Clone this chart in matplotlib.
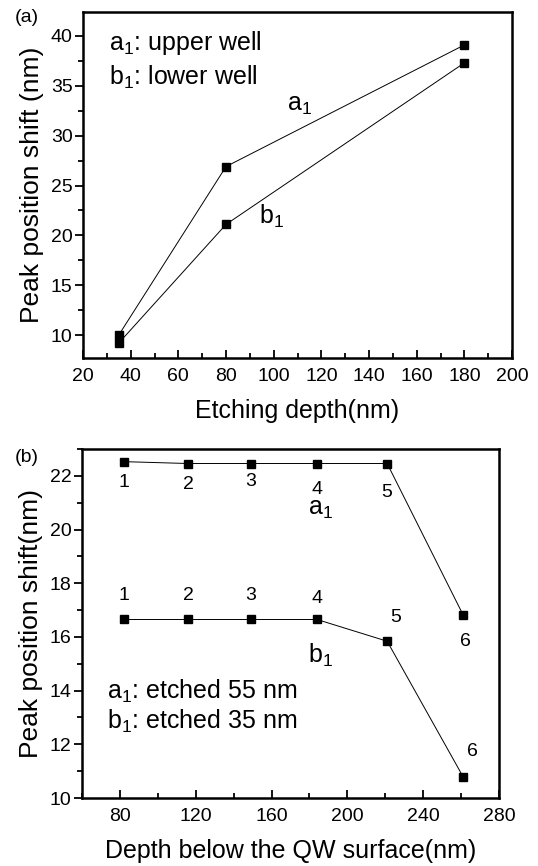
import matplotlib
matplotlib.use('Agg')
import matplotlib.pyplot as plt
from matplotlib.ticker import MultipleLocator

plt.rcParams['font.family'] = ['Liberation Sans', 'DejaVu Sans']
plt.rcParams['mathtext.fontset'] = 'custom'
plt.rcParams['mathtext.rm'] = 'Liberation Sans'

# panel (a): shift vs etching depth
etch_depth = [35, 80, 180]
shift_upper = [10.0, 26.9, 39.1]   # a1
shift_lower = [9.2, 21.1, 37.3]    # b1

# panel (b): shift vs depth below QW surface
qw_depth = [82, 116, 149, 184, 221, 261]
shift_55 = [22.53, 22.46, 22.46, 22.46, 22.46, 16.83]   # a1
shift_35 = [16.65, 16.65, 16.65, 16.65, 15.84, 10.8]    # b1
point_ids = ['1', '2', '3', '4', '5', '6']

A1 = r'a$_\mathregular{1}$'
B1 = r'b$_\mathregular{1}$'

fig = plt.figure(figsize=(5.38, 8.66), dpi=100)


def style_axes(ax):
    for s in ax.spines.values():
        s.set_linewidth(1.8)
    ax.tick_params(axis='x', which='both', direction='in', top=False, labelsize=14, pad=7)
    ax.tick_params(axis='y', which='both', direction='out', right=False, labelsize=14, pad=1.5)
    ax.tick_params(which='major', length=6, width=1.3)
    ax.tick_params(which='minor', length=3.5, width=1.3)


mk = dict(color='black', lw=0.7, marker='s', markersize=5.5, mfc='black', mec='black')

# ---- (a)
ax1 = fig.add_axes([0.1543, 0.5866, 0.7974, 0.3995])
ax1.plot(etch_depth, shift_upper, **mk)
ax1.plot(etch_depth, shift_lower, **mk)
ax1.set_xlim(20, 200)
ax1.set_ylim(7.7, 42.4)
ax1.xaxis.set_major_locator(MultipleLocator(20))
ax1.xaxis.set_minor_locator(MultipleLocator(10))
ax1.yaxis.set_major_locator(MultipleLocator(5))
ax1.yaxis.set_minor_locator(MultipleLocator(2.5))
style_axes(ax1)
ax1.set_xlabel('Etching depth(nm)', fontsize=18, labelpad=10)
ax1.set_ylabel('Peak position shift (nm)', fontsize=19, labelpad=5)
ax1.text(0.06, 0.91, A1 + ': upper well', transform=ax1.transAxes, fontsize=18, va='center')
ax1.text(0.06, 0.81, B1 + ': lower well', transform=ax1.transAxes, fontsize=18, va='center')
ax1.text(111, 33.1, A1, fontsize=18, ha='center', va='center')
ax1.text(99, 21.9, B1, fontsize=18, ha='center', va='center')
fig.text(27 / 538, 1 - 17 / 866, '(a)', fontsize=14, ha='center', va='center')

# ---- (b)
ax2 = fig.add_axes([0.1524, 0.0785, 0.7751, 0.4030])
ax2.plot(qw_depth, shift_55, **mk)
ax2.plot(qw_depth, shift_35, **mk)
ax2.set_xlim(60, 280)
ax2.set_ylim(10, 23)
ax2.xaxis.set_major_locator(MultipleLocator(40))
ax2.xaxis.set_minor_locator(MultipleLocator(20))
ax2.yaxis.set_major_locator(MultipleLocator(2))
ax2.yaxis.set_minor_locator(MultipleLocator(1))
style_axes(ax2)
ax2.set_xlabel('Depth below the QW surface(nm)', fontsize=18, labelpad=10)
ax2.set_ylabel('Peak position shift(nm)', fontsize=19, labelpad=5)

off_55 = [(0, -15), (0, -15), (0, -13), (0, -19), (0, -21), (2, -19)]
off_35 = [(0, 17), (0, 17), (0, 17), (0, 15), (6, 17), (7, 18)]
for x, y, t, o in zip(qw_depth, shift_55, point_ids, off_55):
    ax2.annotate(t, (x, y), xytext=o, textcoords='offset points', fontsize=14,
                 ha='center', va='center')
for x, y, t, o in zip(qw_depth, shift_35, point_ids, off_35):
    ax2.annotate(t, (x, y), xytext=o, textcoords='offset points', fontsize=14,
                 ha='center', va='center')
ax2.text(186, 20.75, A1, fontsize=18, ha='center', va='center')
ax2.text(186, 15.3, B1, fontsize=18, ha='center', va='center')
ax2.text(0.06, 0.305, A1 + ': etched 55 nm', transform=ax2.transAxes, fontsize=18, va='center')
ax2.text(0.06, 0.22, B1 + ': etched 35 nm', transform=ax2.transAxes, fontsize=18, va='center')
fig.text(27 / 538, 1 - 457 / 866, '(b)', fontsize=14, ha='center', va='center')

fig.savefig('out.png', dpi=100)
